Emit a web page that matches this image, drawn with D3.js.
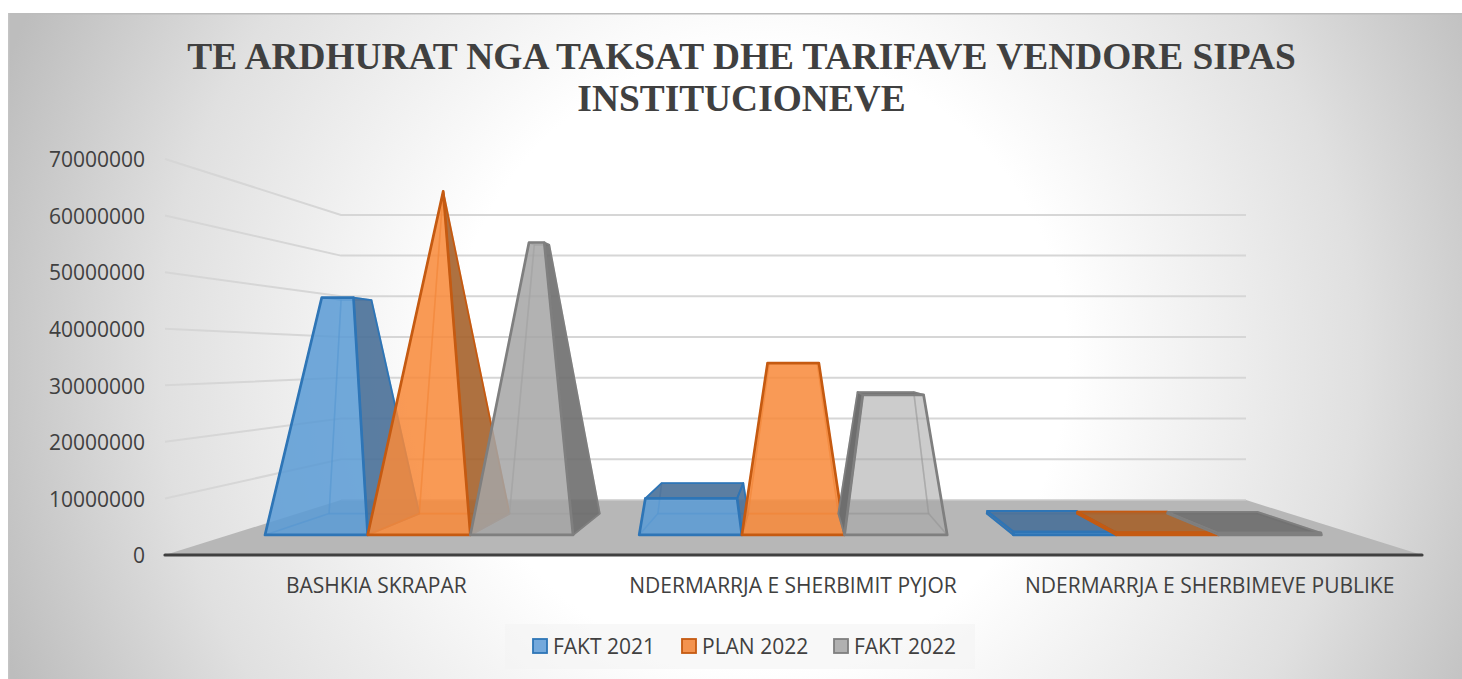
<!DOCTYPE html>
<html>
<head>
<meta charset="utf-8">
<style>
html,body{margin:0;padding:0;background:#fff;overflow:hidden}
svg{display:block}
text{font-family:"Open Sans",sans-serif;fill:#404040}
</style>
<script src="https://cdn.jsdelivr.net/npm/d3@7/dist/d3.min.js"></script>
</head>
<body>
<svg id="c" width="1462" height="679"></svg>
<script>
const categories = ["BASHKIA SKRAPAR","NDERMARRJA E SHERBIMIT PYJOR","NDERMARRJA E SHERBIMEVE PUBLIKE"];
const seriesNames = ["FAKT 2021","PLAN 2022","FAKT 2022"];
const fakt2021 = [47300000, 7000000, 600000];
const plan2022 = [69900000, 33800000, 450000];
const fakt2022 = [58900000, 27400000, 400000];
const seriesValues = [fakt2021, plan2022, fakt2022];
const tickValues = [0,10000000,20000000,30000000,40000000,50000000,60000000,70000000];
const titleLines = ["TE ARDHURAT NGA TAKSAT DHE TARIFAVE VENDORE SIPAS","INSTITUCIONEVE"];

const strokeCol = ["#2e75b6","#c55a11","#7f7f7f"];
const frontCol  = ["#5b9bd5","#f88a3a","#a5a5a5"];
const sideCol   = ["#4a7098","#a5622c","#6e6e6e"];
const legendFill= ["#74a9dc","#f3934f","#b1b1b1"];

const svg = d3.select("#c");
const W=1462,H=679;

// background
const defs = svg.append("defs");
const rg = defs.append("radialGradient").attr("id","bg").attr("gradientUnits","userSpaceOnUse")
  .attr("cx",760).attr("cy",360).attr("r",810);
rg.append("stop").attr("offset",0.38).attr("stop-color","#ffffff");
rg.append("stop").attr("offset",0.74).attr("stop-color","#e0e0e0");
rg.append("stop").attr("offset",1).attr("stop-color","#bdbdbd");
svg.append("rect").attr("x",8).attr("y",13).attr("width",W-8).attr("height",H-13).attr("fill","url(#bg)");
svg.append("rect").attr("x",8).attr("y",13).attr("width",W-8).attr("height",1.5).attr("fill","#bcbcbc");
svg.append("rect").attr("x",8).attr("y",13).attr("width",1.5).attr("height",H-13).attr("fill","#c4c4c4");

// title
svg.append("g").selectAll("text").data(titleLines).join("text")
  .attr("x",741.5).attr("y",(d,i)=>69+i*41.5).attr("text-anchor","middle")
  .style("font-family","'Liberation Serif',serif").style("font-weight","700").style("font-size","37.4px")
  .text(d=>d);

// scales
const left=165,right=1422;
const y = d3.scaleLinear().domain([0,70000000]).range([555,159]);
const x = d3.scaleBand().domain(categories).range([168,1418]).padding(0);
const inner = d3.scaleBand().domain(d3.range(seriesNames.length)).range([37,380]).padding(0);

// perspective
const vx=793.5, vy=358.6, backScale=0.72;
const a = 1/backScale-1;
const sc = z=>1/(1+a*z);
const P = (wx,val,z)=>{const s=sc(z);return [vx+(wx-vx)*s, vy+(y(val)-vy)*s];};
const poly = pts=>"M"+pts.map(p=>p[0].toFixed(2)+","+p[1].toFixed(2)).join("L")+"Z";

// floor
svg.append("path").attr("d",poly([P(left,0,0),P(right,0,0),P(right,0,1),P(left,0,1)])).attr("fill","#b7b7b7");
svg.append("path").attr("d",d3.line()([P(left,0,1),P(right,0,1)])).attr("stroke","#cbcbcb").attr("stroke-width",1.5).attr("fill","none");

// gridlines on walls
svg.append("g").selectAll("path").data(tickValues.filter(v=>v>0)).join("path")
  .attr("d",v=>d3.line()([P(left,v,0),P(left,v,1),P(right,v,1)]))
  .attr("fill","none").attr("stroke","#d6d6d6").attr("stroke-width",2);

// bars
const zFront=0.292, zBack=0.687, zMid=(zFront+zBack)/2, zHalf=(zBack-zFront)/2;
const vmax = d3.max(seriesValues,s=>d3.max(s));
const barsG = svg.append("g");
categories.forEach((cat,ci)=>{
  seriesNames.forEach((nm,si)=>{
    const v = seriesValues[si][ci];
    const x0 = x(cat)+inner(si), w = inner.bandwidth(), xc=x0+w/2, t=1-v/vmax;
    const b = {lf:P(x0,0,zFront),rf:P(x0+w,0,zFront),lb:P(x0,0,zBack),rb:P(x0+w,0,zBack)};
    const hw=w/2*t, hz=zHalf*t;
    const u = {lf:P(xc-hw,v,zMid-hz),rf:P(xc+hw,v,zMid-hz),lb:P(xc-hw,v,zMid+hz),rb:P(xc+hw,v,zMid+hz)};
    const faces = {
      back:[b.lb,b.rb,u.rb,u.lb], bottom:[b.lf,b.rf,b.rb,b.lb],
      left:[b.lf,b.lb,u.lb,u.lf], right:[b.rf,b.rb,u.rb,u.rf],
      top:[u.lf,u.rf,u.rb,u.lb], front:[b.lf,b.rf,u.rf,u.lf]
    };
    const showLeft = x0 > vx, showRight = x0+w < vx, showTop = u.lf[1] > vy;
    const g = barsG.append("g");
    const hidden = [faces.back,faces.bottom];
    if(!showLeft) hidden.push(faces.left);
    if(!showRight) hidden.push(faces.right);
    if(!showTop) hidden.push(faces.top);
    hidden.forEach(f=>g.append("path").attr("d",poly(f))
      .attr("fill",frontCol[si]).attr("fill-opacity",0.06)
      .attr("stroke",strokeCol[si]).attr("stroke-opacity",0.35).attr("stroke-width",1.6).attr("stroke-linejoin","round"));
    const visible=[];
    if(showLeft) visible.push(faces.left);
    if(showRight) visible.push(faces.right);
    if(showTop) visible.push(faces.top);
    visible.forEach(f=>g.append("path").attr("d",poly(f))
      .attr("fill",sideCol[si]).attr("fill-opacity",si==2&&ci==1?1:0.9)
      .attr("stroke",strokeCol[si]).attr("stroke-width",1.8).attr("stroke-linejoin","round"));
    g.append("path").attr("d",poly(faces.front))
      .attr("fill",frontCol[si]).attr("fill-opacity",(si==2&&ci==1)?0.55:0.85)
      .attr("stroke",strokeCol[si]).attr("stroke-width",2.7).attr("stroke-linejoin","round");
  });
});

// axes
const axL = svg.append("g").attr("transform","translate(149,1)")
  .call(d3.axisLeft(y).tickValues(tickValues).tickSize(0).tickPadding(4).tickFormat(d3.format("d")));
axL.select(".domain").remove();
axL.selectAll("text").style("font-size","21px").style("font-family","'Open Sans',sans-serif").attr("fill","#404040");

const axB = svg.append("g").attr("transform","translate(0,555)")
  .call(d3.axisBottom(x).tickSize(0).tickPadding(23));
axB.select(".domain").remove();
axB.selectAll("text").style("font-size","21px").style("font-family","'Open Sans',sans-serif").attr("fill","#404040");
svg.append("path").attr("d",d3.line()([[left,555],[right,555]])).attr("stroke","#404040").attr("stroke-width",3.2).attr("stroke-linecap","round").attr("fill","none");

// legend
svg.append("rect").attr("x",505).attr("y",624).attr("width",470).attr("height",45).attr("fill","#f3f3f3").attr("fill-opacity",0.6);
const legendX = [533,682,834];
const lg = svg.append("g").selectAll("g").data(seriesNames).join("g")
  .attr("transform",(d,i)=>`translate(${legendX[i]},639)`);
lg.append("rect").attr("width",14).attr("height",14).attr("fill",(d,i)=>legendFill[i]).attr("stroke",(d,i)=>strokeCol[i]).attr("stroke-width",1.8);
lg.append("text").attr("x",20).attr("y",15).style("font-size","21px").text(d=>d);
</script>
</body>
</html>
